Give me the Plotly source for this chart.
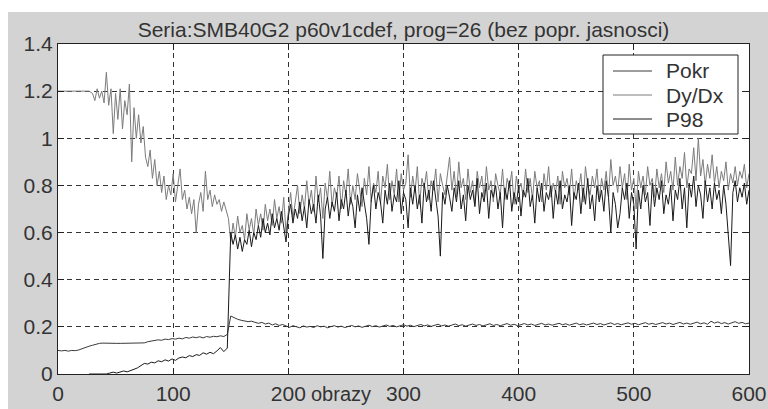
import plotly.graph_objects as go

# ---- data -------------------------------------------------------------
# Dy/Dx ratio: flat start every 3rd frame, then every 2nd frame to 600
frames_dydx = list(range(0, 30, 3)) + list(range(30, 601, 2))
dydx = [
    1.20, 1.20, 1.20, 1.20, 1.20, 1.20, 1.20, 1.20, 1.20, 1.20,
    1.19, 1.16, 1.21, 1.17, 1.20, 1.15, 1.28, 1.14, 1.21, 1.02,
    1.19, 1.08, 1.21, 1.04, 1.16, 1.10, 1.23, 0.90, 1.13, 1.00,
    1.10, 0.98, 1.05, 0.92, 0.88, 0.95, 0.83, 0.91, 0.80, 0.86,
    0.77, 0.84, 0.74, 0.80, 0.76, 0.85, 0.73, 0.79, 0.87, 0.74,
    0.78, 0.70, 0.75, 0.68, 0.74, 0.60, 0.72, 0.77, 0.69, 0.86,
    0.74, 0.78, 0.71, 0.76, 0.72, 0.74, 0.69, 0.73, 0.70, 0.66,
    0.56, 0.64, 0.58, 0.67, 0.60, 0.63, 0.57, 0.68, 0.61, 0.66,
    0.59, 0.70, 0.63, 0.68, 0.61, 0.72, 0.65, 0.70, 0.63, 0.74,
    0.66, 0.71, 0.64, 0.75, 0.60, 0.70, 0.77, 0.66, 0.73, 0.80,
    0.68, 0.76, 0.70, 0.82, 0.72, 0.78, 0.69, 0.84, 0.73, 0.79,
    0.66, 0.81, 0.74, 0.86, 0.71, 0.79, 0.75, 0.84, 0.70, 0.82,
    0.76, 0.87, 0.72, 0.80, 0.74, 0.85, 0.78, 0.71, 0.83, 0.76,
    0.88, 0.73, 0.81, 0.77, 0.86, 0.72, 0.84, 0.79, 0.89, 0.74,
    0.82, 0.76, 0.87, 0.73, 0.85, 0.78, 0.81, 0.93, 0.75, 0.84,
    0.77, 0.88, 0.72, 0.83, 0.79, 0.86, 0.74, 0.82, 0.78, 0.87,
    0.73, 0.85, 0.80, 0.76, 0.84, 0.92, 0.78, 0.86, 0.75, 0.90,
    0.79, 0.83, 0.74, 0.87, 0.77, 0.82, 0.72, 0.86, 0.79, 0.84,
    0.75, 0.88, 0.78, 0.82, 0.73, 0.85, 0.80, 0.76, 0.87, 0.74,
    0.83, 0.79, 0.86, 0.72, 0.84, 0.78, 0.81, 0.75, 0.87, 0.77,
    0.83, 0.74, 0.86, 0.79, 0.82, 0.73, 0.85, 0.78, 0.88, 0.75,
    0.81, 0.77, 0.84, 0.72, 0.86, 0.79, 0.83, 0.76, 0.87, 0.74,
    0.82, 0.78, 0.85, 0.73, 0.88, 0.80, 0.76, 0.84, 0.79, 0.87,
    0.74, 0.83, 0.78, 0.86, 0.75, 0.91, 0.80, 0.84, 0.77, 0.88,
    0.79, 0.85, 0.74, 0.89, 0.78, 0.83, 0.70, 0.86, 0.79, 0.84,
    0.76, 0.88, 0.80, 0.83, 0.75, 0.87, 0.79, 0.85, 0.77, 0.90,
    0.81, 0.86, 0.78, 0.92, 0.80, 0.88, 0.83, 0.94, 0.79, 0.87,
    0.85, 0.96, 0.82, 1.00, 0.84, 0.91, 0.80, 0.89, 0.83, 0.93,
    0.81, 0.88, 0.79, 0.86, 0.82, 0.90, 0.78, 0.85, 0.81, 0.88,
    0.80, 0.86, 0.83, 0.89, 0.79, 0.85,
]

# P98 level: slow rise every 3rd frame, then every 2nd frame from 150
frames_p98 = list(range(27, 148, 3)) + list(range(150, 601, 2))
p98 = [
    0.000, 0.000, 0.000, 0.000, 0.000, 0.000, 0.004, 0.008, 0.004, 0.010,
    0.013, 0.009, 0.016, 0.020, 0.026, 0.036, 0.045, 0.042, 0.050, 0.047,
    0.056, 0.052, 0.060, 0.055, 0.064, 0.058, 0.068, 0.072, 0.069, 0.078,
    0.074, 0.082, 0.079, 0.090, 0.084, 0.092, 0.086, 0.098, 0.112, 0.095,
    0.110,
    0.60, 0.55, 0.59, 0.53, 0.58, 0.52, 0.57, 0.55, 0.61, 0.54,
    0.60, 0.57, 0.63, 0.58, 0.66, 0.60, 0.64, 0.59, 0.68, 0.62,
    0.66, 0.61, 0.69, 0.63, 0.56, 0.67, 0.72, 0.64, 0.70, 0.66,
    0.73, 0.65, 0.71, 0.62, 0.74, 0.68, 0.72, 0.64, 0.76, 0.67,
    0.49, 0.70, 0.75, 0.66, 0.73, 0.69, 0.77, 0.65, 0.74, 0.70,
    0.78, 0.67, 0.75, 0.71, 0.62, 0.76, 0.69, 0.79, 0.72, 0.66,
    0.55, 0.74, 0.80, 0.70, 0.77, 0.73, 0.64, 0.78, 0.72, 0.81,
    0.69, 0.76, 0.73, 0.82, 0.68, 0.77, 0.74, 0.62, 0.79, 0.72,
    0.80, 0.70, 0.76, 0.64, 0.81, 0.73, 0.78, 0.69, 0.82, 0.74,
    0.67, 0.50, 0.77, 0.72, 0.80, 0.75, 0.69, 0.79, 0.73, 0.82,
    0.70, 0.76, 0.65, 0.80, 0.74, 0.78, 0.71, 0.83, 0.68, 0.77,
    0.73, 0.81, 0.66, 0.78, 0.75, 0.80, 0.70, 0.77, 0.62, 0.79,
    0.74, 0.82, 0.69, 0.77, 0.72, 0.80, 0.67, 0.78, 0.75, 0.83,
    0.71, 0.76, 0.64, 0.79, 0.73, 0.81, 0.69, 0.77, 0.74, 0.80,
    0.66, 0.78, 0.72, 0.82, 0.70, 0.76, 0.73, 0.80, 0.63, 0.77,
    0.74, 0.81, 0.68, 0.79, 0.72, 0.83, 0.70, 0.76, 0.65, 0.80,
    0.73, 0.78, 0.69, 0.82, 0.75, 0.60, 0.77, 0.72, 0.62, 0.68,
    0.79, 0.74, 0.81, 0.66, 0.77, 0.72, 0.53, 0.78, 0.70, 0.80,
    0.73, 0.77, 0.63, 0.81, 0.71, 0.79, 0.74, 0.82, 0.68, 0.76,
    0.72, 0.80, 0.65, 0.78, 0.74, 0.83, 0.70, 0.79, 0.62, 0.81,
    0.75, 0.84, 0.71, 0.80, 0.76, 0.66, 0.82, 0.73, 0.79, 0.70,
    0.81, 0.74, 0.78, 0.68, 0.80, 0.72, 0.58, 0.46, 0.77, 0.82,
    0.73, 0.79, 0.75, 0.81, 0.72, 0.78,
]

# Pokr (coverage), every 3rd frame from 0 to 600
frames_pokr = list(range(0, 601, 3))
pokr = [
    0.100, 0.098, 0.100, 0.097, 0.100, 0.099, 0.102, 0.108, 0.115, 0.118,
    0.122, 0.127, 0.130, 0.131, 0.130, 0.130, 0.131, 0.130, 0.130, 0.130,
    0.131, 0.130, 0.131, 0.130, 0.131, 0.132, 0.137, 0.140, 0.142, 0.145,
    0.143, 0.148, 0.146, 0.150, 0.148, 0.152, 0.149, 0.155, 0.152, 0.157,
    0.154, 0.158, 0.153, 0.159, 0.156, 0.160, 0.158, 0.162, 0.159, 0.168,
    0.246, 0.238, 0.232, 0.228, 0.225, 0.222, 0.224, 0.218, 0.215, 0.219,
    0.212, 0.216, 0.208, 0.213, 0.206, 0.210, 0.203, 0.198, 0.205, 0.201,
    0.196, 0.204, 0.199, 0.202, 0.197, 0.205, 0.200, 0.203, 0.196, 0.201,
    0.205, 0.199, 0.203, 0.197, 0.202, 0.206, 0.200, 0.204, 0.198, 0.203,
    0.207, 0.201, 0.205, 0.199, 0.204, 0.208, 0.202, 0.206, 0.200, 0.205,
    0.209, 0.203, 0.207, 0.201, 0.206, 0.210, 0.204, 0.208, 0.202, 0.207,
    0.211, 0.204, 0.208, 0.203, 0.207, 0.212, 0.205, 0.209, 0.203, 0.208,
    0.212, 0.206, 0.210, 0.204, 0.209, 0.213, 0.206, 0.210, 0.205, 0.209,
    0.214, 0.207, 0.211, 0.205, 0.210, 0.214, 0.208, 0.212, 0.206, 0.211,
    0.215, 0.208, 0.212, 0.207, 0.211, 0.215, 0.209, 0.213, 0.207, 0.212,
    0.216, 0.209, 0.213, 0.208, 0.212, 0.216, 0.210, 0.214, 0.208, 0.213,
    0.217, 0.210, 0.214, 0.209, 0.213, 0.217, 0.211, 0.215, 0.209, 0.214,
    0.218, 0.211, 0.215, 0.210, 0.214, 0.218, 0.212, 0.216, 0.210, 0.215,
    0.219, 0.212, 0.216, 0.211, 0.215, 0.220, 0.213, 0.217, 0.211, 0.224,
    0.216, 0.221, 0.214, 0.218, 0.212, 0.217, 0.222, 0.215, 0.219, 0.213,
    0.216,
]

series_names = ["Pokr", "Dy/Dx", "P98"]
series_colors = ["#3a3a3a", "#7c7c7c", "#1a1a1a"]

x_ticks = [0, 100, 200, 300, 400, 500, 600]
y_ticks = [0, 0.2, 0.4, 0.6, 0.8, 1.0, 1.2, 1.4]
y_tick_text = ["0", "0.2", "0.4", "0.6", "0.8", "1", "1.2", "1.4"]

title_text = "Seria:SMB40G2 p60v1cdef, prog=26 (bez popr. jasnosci)"
x_title = "obrazy"

# ---- figure -----------------------------------------------------------
W, H = 768, 409
ML, MR, MT, MB = 58, 19, 44, 35
FONT = "Liberation Sans, Arial, sans-serif"
TXT = "#333333"
BG = "#d3d3d3"
EDGE = "#222222"

fig = go.Figure()
for xs, ys, name, col in zip([frames_pokr, frames_dydx, frames_p98],
                             [pokr, dydx, p98], series_names, series_colors):
    fig.add_trace(go.Scatter(x=xs, y=ys, mode="lines", name=name,
                             line=dict(color=col, width=1)))

pw = W - ML - MR
ph = H - MT - MB


def px_x(v):
    return (v - ML) / pw


def px_y(v):
    return (H - MB - v) / ph


# white strips along the top and left edge of the grey frame
fig.add_shape(type="rect", xref="paper", yref="paper", layer="below",
              x0=px_x(0), x1=px_x(W), y0=px_y(12), y1=px_y(0),
              fillcolor="white", line_width=0)
fig.add_shape(type="rect", xref="paper", yref="paper", layer="below",
              x0=px_x(0), x1=px_x(8), y0=px_y(H), y1=px_y(0),
              fillcolor="white", line_width=0)

# boxed legend in the upper right corner of the axes
LEG_L, LEG_R, LEG_T, LEG_B = 603, 738, 55, 134
fig.add_shape(type="rect", xref="paper", yref="paper",
              x0=px_x(LEG_L), x1=px_x(LEG_R), y0=px_y(LEG_B), y1=px_y(LEG_T),
              fillcolor="white", line=dict(color=EDGE, width=1))
for i, (name, col) in enumerate(zip(series_names, series_colors)):
    row_y = LEG_T + 16 + 24 * i
    fig.add_shape(type="line", xref="paper", yref="paper",
                  x0=px_x(LEG_L + 10), x1=px_x(LEG_L + 49),
                  y0=px_y(row_y), y1=px_y(row_y),
                  line=dict(color=col, width=1))
    fig.add_annotation(text=name, xref="paper", yref="paper",
                       x=px_x(LEG_L + 61), y=px_y(row_y), showarrow=False,
                       xanchor="left", yanchor="middle",
                       font=dict(family=FONT, size=21, color=TXT))

axis_common = dict(
    showline=True, linecolor=EDGE, linewidth=1, mirror="ticks",
    ticks="inside", ticklen=6, tickcolor=EDGE,
    showgrid=True, gridcolor="#333333", gridwidth=1, griddash="5px,4px",
    zeroline=False, automargin=False,
    tickfont=dict(family=FONT, size=21, color=TXT),
)

fig.update_layout(
    width=W, height=H,
    margin=dict(l=ML, r=MR, t=MT, b=MB, autoexpand=False),
    paper_bgcolor=BG, plot_bgcolor="white",
    title=dict(text=title_text, x=0.5, xanchor="center", xref="paper",
               y=1 - 29.5 / H, yref="container", yanchor="middle",
               font=dict(family=FONT, size=21, color=TXT)),
    xaxis=dict(range=[0, 600], tickvals=x_ticks, ticklabelstandoff=1,
               **axis_common),
    yaxis=dict(range=[0, 1.4], tickvals=y_ticks, ticktext=y_tick_text,
               **axis_common),
    showlegend=False,
)

fig.add_annotation(text=x_title, xref="paper", yref="paper",
                   x=px_x(341), y=px_y(394), showarrow=False,
                   xanchor="center", yanchor="middle",
                   font=dict(family=FONT, size=20, color=TXT))

fig.write_html("out.html")
